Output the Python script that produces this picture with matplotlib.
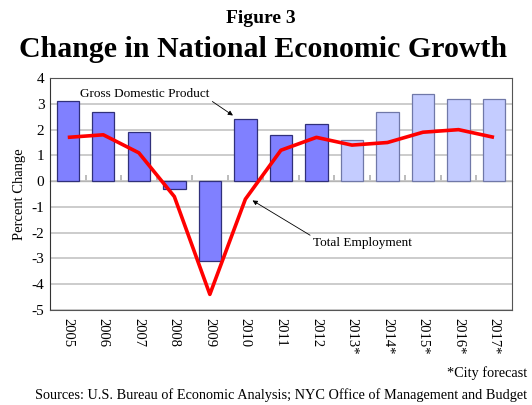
import numpy as np
import matplotlib
matplotlib.use('Agg')
import matplotlib.pyplot as plt

# data
years = ['2005', '2006', '2007', '2008', '2009', '2010', '2011', '2012',
         '2013*', '2014*', '2015*', '2016*', '2017*']
gdp = [3.1, 2.7, 1.9, -0.3, -3.1, 2.4, 1.8, 2.2, 1.6, 2.7, 3.4, 3.2, 3.2]
employment = [1.7, 1.8, 1.1, -0.6, -4.4, -0.7, 1.2, 1.7, 1.4, 1.5, 1.9, 2.0, 1.7]
forecast = [False] * 8 + [True] * 5

plt.rcParams['font.family'] = ['Liberation Serif', 'DejaVu Serif']
plt.rcParams['axes.unicode_minus'] = False

fig = plt.figure(figsize=(5.32, 4.05), dpi=100)
ax = fig.add_axes([0.094, 0.235, 0.868, 0.572])

x = np.arange(len(years))
face = ['#c4ccff' if f else '#8080ff' for f in forecast]
edge = ['#7078a8' if f else '#30307a' for f in forecast]
ax.bar(x, gdp, width=0.63, color=face, edgecolor=edge, linewidth=0.9, zorder=2)
ax.plot(x, employment, color='#ff0000', linewidth=2.6, zorder=3, solid_capstyle='butt')

ax.set_xlim(-0.5, len(years) - 0.5)
ax.set_ylim(-5, 4)
ax.set_yticks(range(-5, 5))
ax.yaxis.grid(True, color='#c8c8c8', linewidth=1.3, zorder=0)
ax.set_axisbelow(True)
ax.set_xticks(x)
ax.set_xticklabels(years, rotation=-90, fontsize=10.5)
ax.tick_params(axis='x', length=0, pad=6)
ax.tick_params(axis='y', labelsize=11, length=0, pad=4)
for s in ['top', 'right', 'bottom']:
    ax.spines[s].set_color('#555555')
ax.spines['left'].set_color('#333333')
ax.set_ylabel('Percent Change', fontsize=10.5, labelpad=4)

# zero line with small ticks between categories
zero = ax.secondary_xaxis(5 / 9)
zero.set_xticks(x[:-1] + 0.5)
zero.set_xticklabels([])
zero.tick_params(axis='x', length=4, color='#b0b0b0', width=1.2)
zero.spines['bottom'].set_color('#b0b0b0')
zero.spines['bottom'].set_linewidth(1.3)

ax.annotate('Gross Domestic Product', xy=(4.65, 2.55), xytext=(0.35, 3.4),
            fontsize=9.5, ha='left', va='center',
            arrowprops=dict(arrowstyle='-|>', color='black', lw=0.6,
                            mutation_scale=7, shrinkA=0, shrinkB=0,
                            relpos=(1.0, 0.0)))
ax.annotate('Total Employment', xy=(5.2, -0.75), xytext=(6.9, -2.4),
            fontsize=9.5, ha='left', va='center',
            arrowprops=dict(arrowstyle='-|>', color='black', lw=0.6,
                            mutation_scale=7, shrinkA=0, shrinkB=0,
                            relpos=(0.0, 1.0)))

fig.text(0.491, 0.955, 'Figure 3', ha='center', va='center',
         fontsize=14, fontweight='bold')
fig.text(0.495, 0.877, 'Change in National Economic Growth', ha='center',
         va='center', fontsize=21.5, fontweight='bold')
fig.text(0.99, 0.078, '*City forecast', ha='right', va='center', fontsize=10.3)
fig.text(0.99, 0.025, 'Sources: U.S. Bureau of Economic Analysis; NYC Office of Management and Budget',
         ha='right', va='center', fontsize=10.3)

fig.savefig('out.png', dpi=100)
